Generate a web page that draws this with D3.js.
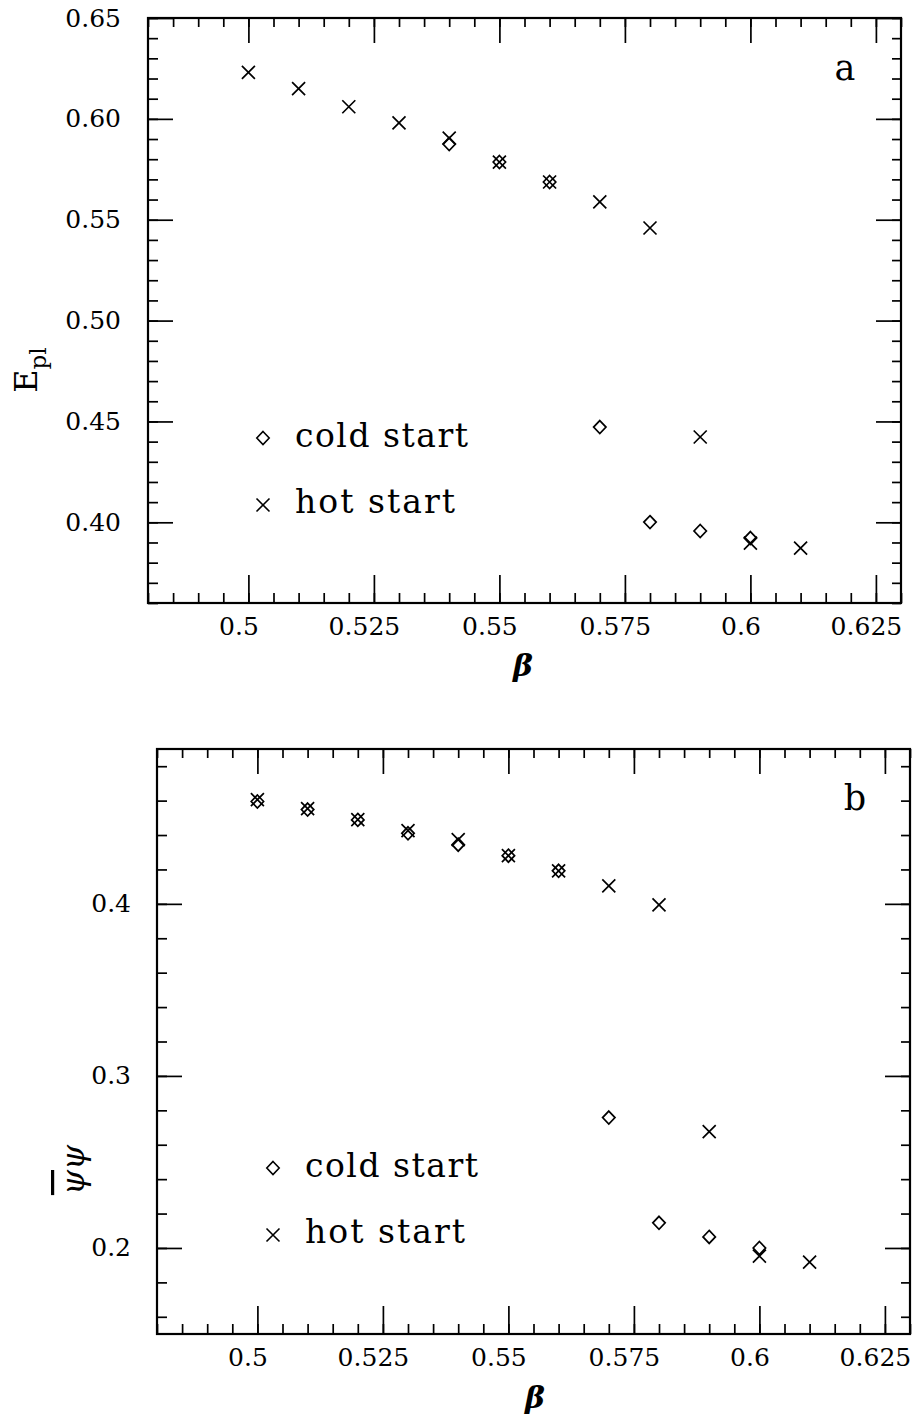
<!DOCTYPE html>
<html>
<head>
<meta charset="utf-8">
<script src="https://cdn.jsdelivr.net/npm/d3@7"></script>
<style>
  body { margin: 0; background: #fff; }
  text { font-family: "DejaVu Serif", serif; fill: #000; }
</style>
</head>
<body>
<div id="chart"></div>
<script>
var width = 917, height = 1421;

// beta values of the runs
var betaHot  = [0.50, 0.51, 0.52, 0.53, 0.54, 0.55, 0.56, 0.57, 0.58, 0.59, 0.60, 0.61];
var betaColdA = [0.54, 0.55, 0.56, 0.57, 0.58, 0.59, 0.60];
var betaColdB = [0.50, 0.51, 0.52, 0.53, 0.54, 0.55, 0.56, 0.57, 0.58, 0.59, 0.60];

// panel a : plaquette energy
var eplHot  = [0.623, 0.615, 0.606, 0.598, 0.5905, 0.5786, 0.5687, 0.5588, 0.5459, 0.4423, 0.3897, 0.3872];
var eplCold = [0.5875, 0.5786, 0.5687, 0.4472, 0.4001, 0.3957, 0.3922];

// panel b : chiral condensate
var pbpHot  = [0.4606, 0.4554, 0.449, 0.4426, 0.4373, 0.428, 0.4192, 0.4105, 0.3994, 0.2676, 0.1953, 0.1918];
var pbpCold = [0.4595, 0.4548, 0.4488, 0.441, 0.4344, 0.428, 0.4192, 0.2758, 0.2146, 0.2064, 0.2];

// ticks
var xMajor = [0.5, 0.525, 0.55, 0.575, 0.6, 0.625];
var xTickLabels = ["0.5", "0.525", "0.55", "0.575", "0.6", "0.625"];
var eplMajor = [0.40, 0.45, 0.50, 0.55, 0.60, 0.65];
var eplTickLabels = ["0.40", "0.45", "0.50", "0.55", "0.60", "0.65"];
var pbpMajor = [0.2, 0.3, 0.4];
var pbpTickLabels = ["0.2", "0.3", "0.4"];

var xMinor = d3.range(96, 127).map(function(i){ return i / 200; });
var eplMinor = d3.range(36, 66).map(function(i){ return i / 100; });
var pbpMinor = d3.range(8, 25).map(function(i){ return i / 50; });

var crossPath = "M-6.5,-6.5L6.5,6.5M-6.5,6.5L6.5,-6.5";
var diamondPath = "M0,-6.5L6.2,0L0,6.5L-6.2,0Z";

var svg = d3.select('#chart').append('svg')
  .attr('width', width)
  .attr('height', height);

function drawPanel(p) {
  var x = d3.scaleLinear().domain([0.48, 0.63]).range([p.left, p.right]);
  var y = d3.scaleLinear().domain(p.yDomain).range([p.bottom, p.top]);
  var g = svg.append('g');

  function styleAxis(a) {
    a.select('.domain').remove();
    a.selectAll('.tick line').attr('stroke', '#000').attr('stroke-width', 1.7);
    a.selectAll('.tick text')
      .attr('font-family', '"DejaVu Serif", serif')
      .attr('font-size', 25)
      .attr('fill', '#000');
    a.attr('font-family', null).attr('font-size', null);
  }

  // bottom
  g.append('g').attr('transform', 'translate(0,' + p.bottom + ')')
    .call(d3.axisBottom(x).tickValues(xMinor).tickFormat('').tickSize(-10)).call(styleAxis);
  g.append('g').attr('transform', 'translate(0,' + p.bottom + ')')
    .call(d3.axisBottom(x).tickValues(xMajor)
      .tickFormat(function(d, i){ return xTickLabels[i]; })
      .tickSize(-28).tickPadding(14)).call(styleAxis)
    .selectAll('.tick text').attr('dx', -10);
  // top
  g.append('g').attr('transform', 'translate(0,' + p.top + ')')
    .call(d3.axisTop(x).tickValues(xMinor).tickFormat('').tickSize(-9)).call(styleAxis);
  g.append('g').attr('transform', 'translate(0,' + p.top + ')')
    .call(d3.axisTop(x).tickValues(xMajor).tickFormat('').tickSize(-25)).call(styleAxis);
  // left
  g.append('g').attr('transform', 'translate(' + p.left + ',0)')
    .call(d3.axisLeft(y).tickValues(p.yMinor).tickFormat('').tickSize(-10)).call(styleAxis);
  g.append('g').attr('transform', 'translate(' + p.left + ',0)')
    .call(d3.axisLeft(y).tickValues(p.yMajor)
      .tickFormat(function(d, i){ return p.yLabels[i]; })
      .tickSize(-25).tickPadding(p.yPad)).call(styleAxis);
  // right
  g.append('g').attr('transform', 'translate(' + p.right + ',0)')
    .call(d3.axisRight(y).tickValues(p.yMinor).tickFormat('').tickSize(-9)).call(styleAxis);
  g.append('g').attr('transform', 'translate(' + p.right + ',0)')
    .call(d3.axisRight(y).tickValues(p.yMajor).tickFormat('').tickSize(-25)).call(styleAxis);

  // frame
  g.append('rect')
    .attr('x', p.left).attr('y', p.top)
    .attr('width', p.right - p.left).attr('height', p.bottom - p.top)
    .attr('fill', 'none').attr('stroke', '#000').attr('stroke-width', 2.2);

  // points
  g.selectAll('path.cold')
    .data(p.cold.map(function(v, i){ return {b: p.coldBeta[i], v: v}; }))
    .enter().append('path')
    .attr('class', 'cold')
    .attr('d', diamondPath)
    .attr('transform', function(d){ return 'translate(' + x(d.b) + ',' + y(d.v) + ')'; })
    .attr('fill', 'none').attr('stroke', '#000').attr('stroke-width', 1.7);

  g.selectAll('path.hot')
    .data(p.hot.map(function(v, i){ return {b: betaHot[i], v: v}; }))
    .enter().append('path')
    .attr('class', 'hot')
    .attr('d', crossPath)
    .attr('transform', function(d){ return 'translate(' + x(d.b) + ',' + y(d.v) + ')'; })
    .attr('fill', 'none').attr('stroke', '#000').attr('stroke-width', 1.7);

  // legend
  g.append('path').attr('d', diamondPath)
    .attr('transform', 'translate(' + p.legX + ',' + (p.legY - 9) + ')')
    .attr('fill', 'none').attr('stroke', '#000').attr('stroke-width', 1.6);
  g.append('text').attr('x', p.legX + 32).attr('y', p.legY)
    .attr('font-size', 33).attr('textLength', 173).attr('lengthAdjust', 'spacing')
    .text('cold start');
  g.append('path').attr('d', crossPath)
    .attr('transform', 'translate(' + p.legX + ',' + (p.legY + 58) + ')')
    .attr('fill', 'none').attr('stroke', '#000').attr('stroke-width', 1.6);
  g.append('text').attr('x', p.legX + 32).attr('y', p.legY + 66)
    .attr('font-size', 33).attr('textLength', 160).attr('lengthAdjust', 'spacing')
    .text('hot start');

  // panel letter
  g.append('text').attr('x', p.letterX).attr('y', p.letterY)
    .attr('text-anchor', 'middle').attr('font-size', 35)
    .text(p.letter);

  // beta label
  g.append('text').attr('x', p.betaX).attr('y', p.betaY)
    .attr('text-anchor', 'middle').attr('font-size', 30)
    .attr('font-weight', 'bold').attr('font-style', 'italic')
    .text('\u03b2');

  return g;
}

var ga = drawPanel({
  left: 148, right: 901, top: 18, bottom: 603,
  yDomain: [0.36, 0.65], yMajor: eplMajor, yMinor: eplMinor, yLabels: eplTickLabels, yPad: 27,
  hot: eplHot, cold: eplCold, coldBeta: betaColdA,
  legX: 263, legY: 447, letter: 'a', letterX: 845, letterY: 80,
  betaX: 523, betaY: 676
});

var gb = drawPanel({
  left: 157, right: 910, top: 749, bottom: 1334,
  yDomain: [0.15, 0.49], yMajor: pbpMajor, yMinor: pbpMinor, yLabels: pbpTickLabels, yPad: 26,
  hot: pbpHot, cold: pbpCold, coldBeta: betaColdB,
  legX: 273, legY: 1177, letter: 'b', letterX: 855, letterY: 810,
  betaX: 535, betaY: 1408
});

// y axis titles
var ta = ga.append('text')
  .attr('transform', 'translate(37,370) rotate(-90)')
  .attr('text-anchor', 'middle')
  .attr('font-size', 32);
ta.append('tspan').text('E');
ta.append('tspan').attr('font-size', 23).attr('dy', 9).text('pl');

var tb = gb.append('text')
  .attr('transform', 'translate(84,1170) rotate(-90)')
  .attr('text-anchor', 'middle')
  .attr('font-size', 32)
  .attr('font-style', 'italic');
tb.append('tspan').style('text-decoration', 'overline').text('\u03c8');
tb.append('tspan').text('\u03c8');
</script>
</body>
</html>
